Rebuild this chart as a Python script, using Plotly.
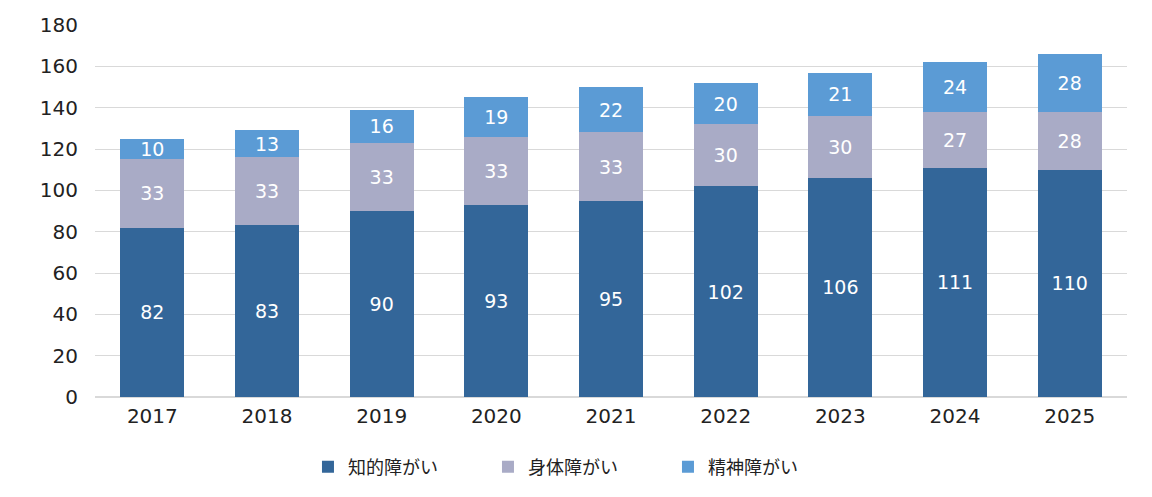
import plotly.graph_objects as go

years = ["2017", "2018", "2019", "2020", "2021", "2022", "2023", "2024", "2025"]
chiteki = [82, 83, 90, 93, 95, 102, 106, 111, 110]
shintai = [33, 33, 33, 33, 33, 30, 30, 27, 28]
seishin = [10, 13, 16, 19, 22, 20, 21, 24, 28]
y_ticks = [0, 20, 40, 60, 80, 100, 120, 140, 160, 180]

series = [
    ("知的障がい", chiteki, "#336699"),
    ("身体障がい", shintai, "#a9abc6"),
    ("精神障がい", seishin, "#5b9bd5"),
]

FONT = "DejaVu Sans, Noto Sans CJK JP"

fig = go.Figure()
for name, vals, color in series:
    fig.add_trace(go.Bar(
        x=years, y=vals, name=name,
        marker=dict(color=color, line=dict(width=0)),
        text=vals, texttemplate="%{text}", textposition="inside",
        insidetextanchor="middle", textangle=0, constraintext="none",
        textfont=dict(color="white", size=19, family=FONT),
        hoverinfo="skip",
    ))

fig.update_layout(
    barmode="stack",
    bargap=0.44,
    width=1152, height=497,
    margin=dict(l=87, r=33, t=17, b=108, autoexpand=False),
    paper_bgcolor="white", plot_bgcolor="white",
    font=dict(family=FONT, color="#222222", size=20),
    uniformtext=dict(mode=False),
    xaxis=dict(showline=False, ticks="", tickfont=dict(size=20),
               ticklabelstandoff=5, automargin=False),
    yaxis=dict(range=[0, 180], tickvals=y_ticks, showgrid=True,
               gridcolor="#d9d9d9", gridwidth=1, zeroline=True,
               zerolinecolor="#d9d9d9", ticks="", ticklabelstandoff=16,
               tickfont=dict(size=20), automargin=False),
    legend=dict(orientation="h", x=0.468, xanchor="center", y=-0.188,
                yanchor="middle", font=dict(size=18, family="Noto Sans CJK JP"),
                entrywidth=135, itemwidth=30, traceorder="normal"),
)

fig.write_html("out.html")
